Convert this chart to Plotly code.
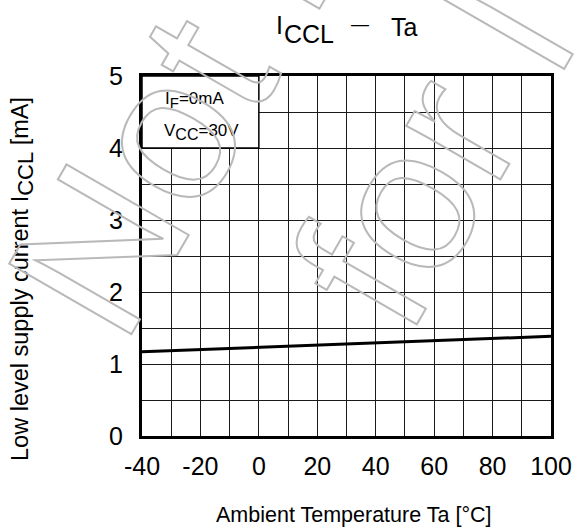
import plotly.graph_objects as go

# ---- data ----
temperature = [-40, -20, 0, 20, 40, 60, 80, 100]
iccl_ma = [1.17, 1.20, 1.235, 1.27, 1.30, 1.33, 1.355, 1.385]
x_ticks = [-40, -20, 0, 20, 40, 60, 80, 100]
x_ticktext = ["-40", "-20", "0", "20", "40", "60", "80", "100"]
y_ticks = [0, 1, 2, 3, 4, 5]
cond_lines = ["I<sub><span style='font-size:15px'>F</span></sub>=0mA",
              "V<sub><span style='font-size:16px'>CC</span></sub>=30V"]
title_parts = ["I", "CCL", "—", "Ta"]
xtitle = "Ambient Temperature Ta [°C]"
ytitle = "Low level supply current I<sub><span style='font-size:22px'>CCL</span></sub> [mA]"
watermark = ["Not Recommended", "for New Design"]

FONT = "Liberation Sans, Arial, sans-serif"

fig = go.Figure()
fig.add_trace(go.Scatter(x=temperature, y=iccl_ma, mode="lines",
                         line=dict(color="black", width=3), showlegend=False,
                         hoverinfo="skip"))

GRID = "#1a1a1a"
fig.update_xaxes(range=[-40, 100], tickvals=x_ticks, ticktext=x_ticktext, ticks="", ticklabelstandoff=6,
                 showline=True, linecolor="black", linewidth=3, mirror=True,
                 showgrid=True, gridcolor=GRID, gridwidth=1.4, zeroline=False,
                 minor=dict(dtick=10, showgrid=True, gridcolor=GRID, gridwidth=1.4),
                 tickfont=dict(family=FONT, size=25, color="black"))
fig.update_yaxes(range=[0, 5], tickvals=y_ticks, ticks="", ticklabelstandoff=11,
                 showline=True, linecolor="black", linewidth=3, mirror=True,
                 showgrid=True, gridcolor=GRID, gridwidth=1.4, zeroline=False,
                 minor=dict(dtick=0.5, showgrid=True, gridcolor=GRID, gridwidth=1.4),
                 tickfont=dict(family=FONT, size=25, color="black"))

# condition box (covers the grid)
fig.add_shape(type="rect", xref="x", yref="y", x0=-40, x1=0, y0=4, y1=5,
              fillcolor="white", line=dict(color="black", width=1.5), layer="between")

fig.add_annotation(x=-32.8, y=4.667, xref="x", yref="y", text=cond_lines[0], showarrow=False,
                   xanchor="left", yanchor="middle", font=dict(family=FONT, size=17, color="black"))
fig.add_annotation(x=-33.2, y=4.22, xref="x", yref="y", text=cond_lines[1], showarrow=False,
                   xanchor="left", yanchor="middle", font=dict(family=FONT, size=17, color="black"))

W_PX, H_PX = 418.0, 360.0
def px_to_paper(px, py):
    return (px - 142) / W_PX, (436 - py) / H_PX

# title, built from pieces so the subscript keeps its large size
for txt, (px, py), size in zip(title_parts, [(277, 25), (285, 34), (354, 24), (394, 27)], [25, 25, 18, 25]):
    ax, ay = px_to_paper(px, py)
    fig.add_annotation(x=ax, y=ay, xref="paper", yref="paper", text=txt, showarrow=False,
                       xanchor="left", yanchor="middle", font=dict(family=FONT, size=size, color="black"))

fig.add_annotation(x=0.518, y=-0.219, xref="paper", yref="paper", text=xtitle, showarrow=False,
                   xanchor="center", yanchor="middle", font=dict(family=FONT, size=21.5, color="black"))
fig.add_annotation(x=-0.292, y=0.435, xref="paper", yref="paper", text=ytitle, showarrow=False,
                   textangle=-90, xanchor="center", yanchor="middle",
                   font=dict(family=FONT, size=23.5, color="black"))

# watermark (outlined grey text)
for txt, (cx, cy) in zip(watermark, [(510, -452), (708, -303)]):
    ax, ay = px_to_paper(cx, cy)
    fig.add_annotation(x=ax, y=ay, xref="paper", yref="paper", text=txt, showarrow=False,
                       textangle=-60, xanchor="center", yanchor="middle",
                       font=dict(family=FONT, size=205, color="rgb(185,185,185)"))

fig.update_layout(width=584, height=529, margin=dict(l=142, r=24, t=76, b=93),
                  paper_bgcolor="white", plot_bgcolor="white", showlegend=False)

post = """
document.body.style.margin = '0';
var gd = document.getElementById('{plot_id}');
gd.querySelectorAll('g.annotation text').forEach(function(t){
  var s = t.textContent || '';
  if (s.indexOf('Not Rec') === 0 || s.indexOf('for New') === 0) {
    t.style.fill = 'none';
    t.style.stroke = 'rgb(185,185,185)';
    t.style.strokeWidth = '2px';
  }
});
"""
fig.write_html("out.html", post_script=post, config={"displayModeBar": False})
